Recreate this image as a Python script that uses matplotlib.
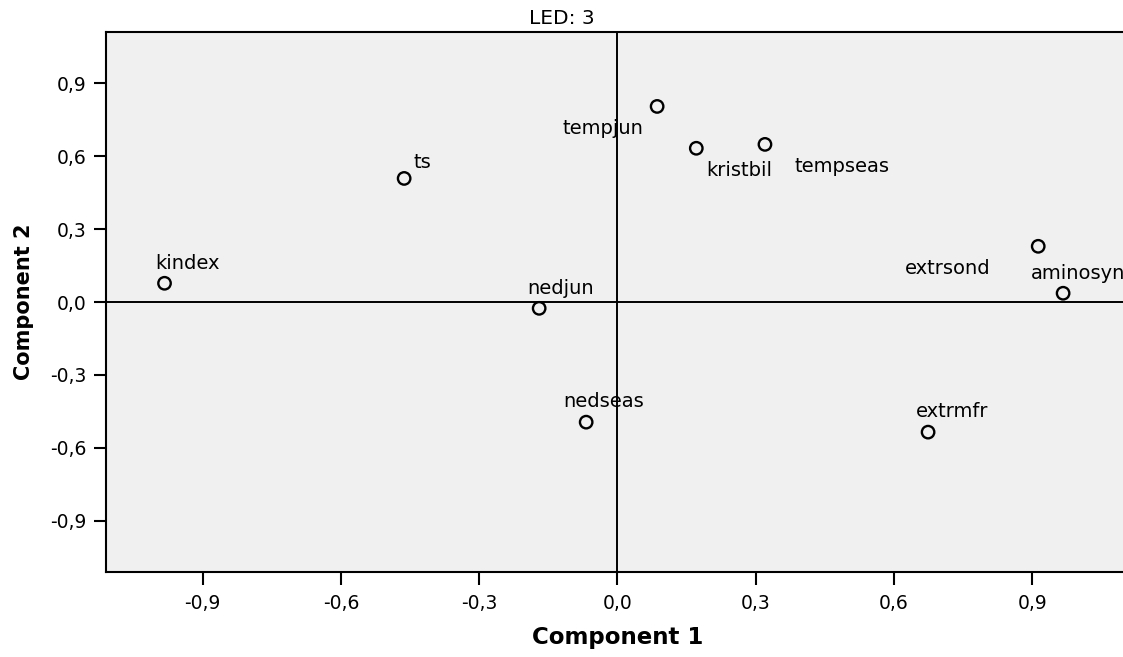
import matplotlib.pyplot as plt

# component loadings
names = ["kindex", "ts", "nedjun", "nedseas", "tempjun", "kristbil",
         "tempseas", "extrsond", "aminosyn", "extrmfr"]
comp1 = [-0.983, -0.463, -0.170, -0.068, 0.086, 0.171, 0.320, 0.913, 0.967, 0.674]
comp2 = [0.077, 0.508, -0.026, -0.494, 0.804, 0.632, 0.648, 0.229, 0.036, -0.535]
ticks = [-0.9, -0.6, -0.3, 0.0, 0.3, 0.6, 0.9]
tick_labels = ["-0,9", "-0,6", "-0,3", "0,0", "0,3", "0,6", "0,9"]

# label placement (pixels, relative to the marker): text left edge / baseline
label_offsets = [(-9, 14), (9, 10), (-12, 14), (-23, 15), (-95, -28),
                 (10, -28), (30, -28), (-133, -28), (-32, 14), (-12, 15)]

plt.rcParams["font.family"] = "DejaVu Sans"

fig = plt.figure(figsize=(11.23, 6.57), dpi=100)
ax = fig.add_axes([106 / 1123, 85 / 657, 1023 / 1123, 540 / 657])
ax.set_facecolor("#f0f0f0")

ax.set_xlim(-1.11, 1.11)
ax.set_ylim(-1.11, 1.11)

# reference lines through the origin
ax.axhline(0, color="black", lw=1.4, zorder=1)
ax.axvline(0, color="black", lw=1.4, zorder=1)

ax.scatter(comp1, comp2, s=80, facecolors="none", edgecolors="black",
           linewidths=1.7, zorder=3)

for name, x, y, off in zip(names, comp1, comp2, label_offsets):
    ax.annotate(name, (x, y), xytext=off, textcoords="offset pixels",
                ha="left", va="baseline", fontsize=14, color="black",
                annotation_clip=False, zorder=4)

ax.set_xticks(ticks)
ax.set_xticklabels(tick_labels)
ax.set_yticks(ticks)
ax.set_yticklabels(tick_labels)
ax.tick_params(axis="both", direction="out", length=9, width=1.5,
               labelsize=13.5, colors="black")
ax.tick_params(axis="x", pad=7)
ax.tick_params(axis="y", pad=5)

for side in ["left", "bottom", "top", "right"]:
    ax.spines[side].set_linewidth(1.5)
    ax.spines[side].set_color("black")

ax.set_xlabel("Component 1", fontsize=16.5, fontweight="bold", labelpad=9)
ax.set_ylabel("Component 2", fontsize=15, fontweight="bold", labelpad=12)

fig.text(0.5, (657 - 24) / 657, "LED: 3", ha="center", va="baseline",
         fontsize=14.5)

fig.savefig("out.png", dpi=100)
